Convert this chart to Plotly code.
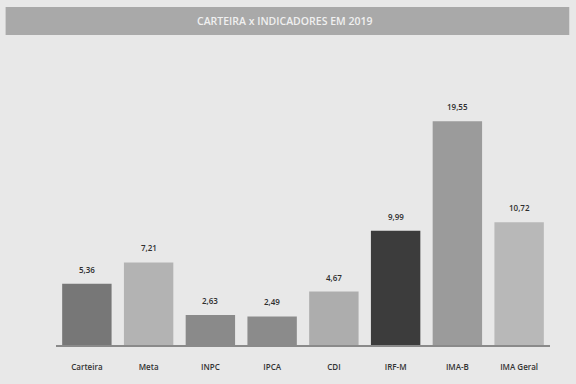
import plotly.graph_objects as go

categories = ["Carteira", "Meta", "INPC", "IPCA", "CDI", "IRF-M", "IMA-B", "IMA Geral"]
values = [5.36, 7.21, 2.63, 2.49, 4.67, 9.99, 19.55, 10.72]
value_labels = ["5,36", "7,21", "2,63", "2,49", "4,67", "9,99", "19,55", "10,72"]
bar_colors = ["#777777", "#b3b3b3", "#8a8a8a", "#8b8b8b", "#adadad", "#3c3c3c", "#9b9b9b", "#b8b8b8"]
title_text = "CARTEIRA x INDICADORES EM 2019"

bg = "#e8e8e8"

fig = go.Figure(
    go.Bar(
        x=categories,
        y=values,
        marker=dict(color=bar_colors, line=dict(width=0)),
        hoverinfo="skip",
    )
)

# value labels above each bar
annotations = [
    dict(
        x=c,
        y=v,
        text=t,
        xref="x",
        yref="y",
        yanchor="bottom",
        yshift=7,
        showarrow=False,
        font=dict(family="Open Sans", size=8, color="#2e2e2e", weight=600),
    )
    for c, v, t in zip(categories, values, value_labels)
]

# title text inside the banner
annotations.append(
    dict(
        text=title_text,
        xref="paper",
        yref="paper",
        x=0.463,
        y=1.322,
        xanchor="center",
        yanchor="middle",
        showarrow=False,
        font=dict(family="Open Sans", size=10.5, color="#f0f0f0", weight=600),
    )
)

fig.update_layout(
    width=576,
    height=384,
    margin=dict(l=55.6, r=25.5, t=100, b=39),
    paper_bgcolor=bg,
    plot_bgcolor=bg,
    bargap=0.2,
    showlegend=False,
    font=dict(family="Open Sans", color="#333333"),
    xaxis=dict(
        range=[-0.5, 7.5],
        showgrid=False,
        zeroline=False,
        showline=True,
        linecolor="#8a8a8a",
        linewidth=1.5,
        ticks="",
        ticklabelstandoff=14,
        tickfont=dict(family="Open Sans", size=8, color="#333333", weight=600),
    ),
    yaxis=dict(
        range=[0, 21.4],
        visible=False,
    ),
    shapes=[
        dict(
            type="rect",
            xref="paper",
            yref="paper",
            x0=-0.102,
            x1=1.039,
            y0=1.265,
            y1=1.380,
            fillcolor="#a9a9a9",
            line=dict(width=0),
            layer="below",
        )
    ],
    annotations=annotations,
)

fig.write_html("out.html")
